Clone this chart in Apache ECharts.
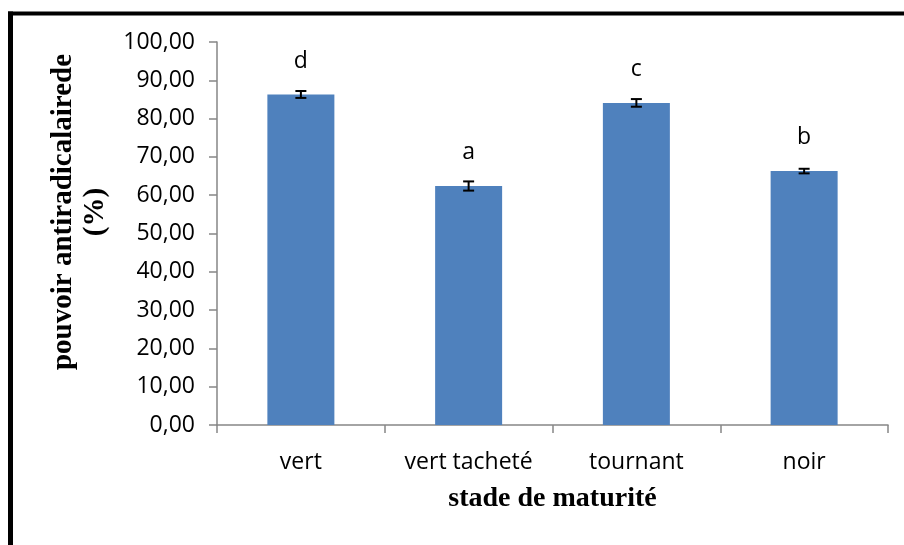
<!DOCTYPE html>
<html>
<head>
<meta charset="utf-8">
<script src="https://cdn.jsdelivr.net/npm/echarts@6/dist/echarts.min.js"></script>
<style>
  html, body { margin: 0; padding: 0; background: #fff; }
  #chart { width: 904px; height: 545px; }
</style>
</head>
<body>
<div id="chart"></div>
<script>
// stades de maturité
const categories = ['vert', 'vert tacheté', 'tournant', 'noir']
// pouvoir antiradicalaire (%)
const values = [86.3, 62.4, 84.1, 66.3]
const errors = [0.9, 1.2, 1.0, 0.6]
const letters = ['d', 'a', 'c', 'b']
const yTicks = { min: 0, max: 100, interval: 10 }

const AXIS_GRAY = '#868686'
const BAR_BLUE = '#4F81BD'

const chart = echarts.init(document.getElementById('chart'), null, { renderer: 'canvas' })

const errorData = values.map((v, i) => [i, v - errors[i], v + errors[i]])

const option = {
  backgroundColor: '#fff',
  animation: false,
  grid: {
    left: 217,
    right: 16,
    top: 42,
    bottom: 120,
    containLabel: false,
    outerBoundsMode: 'none',
  },
  xAxis: {
    type: 'category',
    data: categories,
    name: 'stade de maturité',
    nameLocation: 'middle',
    nameGap: 60,
    nameTextStyle: {
      fontFamily: 'Liberation Serif',
      fontWeight: 'bold',
      fontSize: 28,
      color: '#000',
    },
    axisLine: { lineStyle: { color: AXIS_GRAY, width: 1.5 } },
    axisTick: { show: true, length: 8, lineStyle: { color: AXIS_GRAY, width: 1.5 } },
    axisLabel: {
      margin: 26,
      fontFamily: 'Open Sans',
      fontSize: 23,
      color: '#000',
    },
  },
  yAxis: {
    type: 'value',
    min: yTicks.min,
    max: yTicks.max,
    interval: yTicks.interval,
    axisLine: { show: true, lineStyle: { color: AXIS_GRAY, width: 1.5 } },
    axisTick: { show: true, length: 8, lineStyle: { color: AXIS_GRAY, width: 1.5 } },
    splitLine: { show: false },
    axisLabel: {
      margin: 22,
      fontFamily: 'Open Sans',
      fontSize: 23,
      color: '#000',
      formatter: (v) => v.toFixed(2).replace('.', ','),
    },
  },
  graphic: [
    // cadre noir (haut + gauche)
    { type: 'line', shape: { x1: 8, y1: 13.5, x2: 904, y2: 13.5 }, style: { stroke: '#000', lineWidth: 4 } },
    { type: 'line', shape: { x1: 10.5, y1: 11.5, x2: 10.5, y2: 545 }, style: { stroke: '#000', lineWidth: 5 } },
    {
      type: 'text',
      x: 80,
      y: 212,
      rotation: Math.PI / 2,
      style: {
        text: 'pouvoir antiradicalairede\n(%)',
        fontFamily: 'Liberation Serif',
        fontWeight: 'bold',
        fontSize: 29,
        lineHeight: 32,
        fill: '#000',
        align: 'center',
        verticalAlign: 'middle',
      },
    },
  ],
  series: [
    {
      type: 'bar',
      data: values,
      barWidth: 67,
      itemStyle: { color: BAR_BLUE },
      label: {
        show: true,
        position: 'top',
        distance: 22,
        fontFamily: 'Open Sans',
        fontSize: 23,
        color: '#000',
        formatter: (p) => letters[p.dataIndex],
      },
      z: 2,
    },
    {
      type: 'custom',
      data: errorData,
      z: 5,
      renderItem: (params, api) => {
        const x = api.coord([api.value(0), 0])[0]
        const lo = api.coord([api.value(0), api.value(1)])[1]
        const hi = api.coord([api.value(0), api.value(2)])[1]
        const half = 5.5
        const style = { stroke: '#000', lineWidth: 2 }
        return {
          type: 'group',
          children: [
            { type: 'line', shape: { x1: x, y1: lo, x2: x, y2: hi }, style },
            { type: 'line', shape: { x1: x - half, y1: lo, x2: x + half, y2: lo }, style },
            { type: 'line', shape: { x1: x - half, y1: hi, x2: x + half, y2: hi }, style },
          ],
        }
      },
    },
  ],
}

chart.setOption(option)
</script>
</body>
</html>
